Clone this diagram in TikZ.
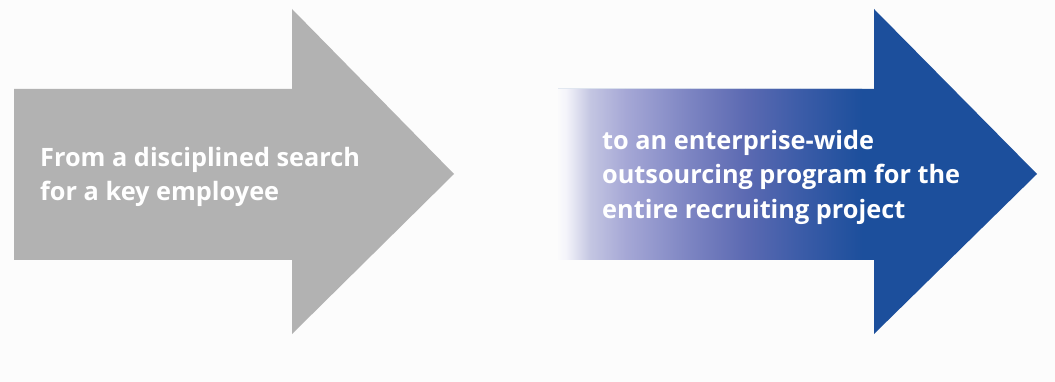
\documentclass[tikz,border=0pt]{standalone}
\usepackage{fontspec}
\setmainfont{Open Sans}
\definecolor{bgc}{HTML}{FCFCFC}
\definecolor{grayarrow}{HTML}{B2B2B2}
\definecolor{bluearrow}{HTML}{1C4F9C}
\definecolor{g1}{HTML}{F4F4FA}
\definecolor{g2}{HTML}{C4C6E2}
\definecolor{g3}{HTML}{A6A8D6}
\definecolor{g4}{HTML}{7C84C2}
\definecolor{g5}{HTML}{5C6AB2}
\definecolor{g6}{HTML}{3C5CA8}
\tikzset{
  lbl/.style={text=white, font=\fontsize{25.3}{34.5}\selectfont\bfseries, align=left, anchor=north west, inner sep=0pt},
}
\begin{document}
\begin{tikzpicture}[x=1pt,y=-1pt]
\fill[bgc] (0,0) rectangle (1055,382);
\useasboundingbox (0,0) rectangle (1055,382);
% gray arrow
\fill[grayarrow] (14,89) -- (292,89) -- (292,9) -- (454,174) -- (292,334) -- (292,260) -- (14,260) -- cycle;
% blue arrow
\begin{scope}
\clip (558,89) -- (874,89) -- (874,9) -- (1037,174) -- (874,334) -- (874,260) -- (558,260) -- cycle;
\fill[bluearrow] (550,0) rectangle (1055,382);
\shade[left color=bgc, right color=g1] (556,0) rectangle (566,382);
\shade[left color=g1, right color=g2] (566,0) rectangle (590,382);
\shade[left color=g2, right color=g3] (590,0) rectangle (625,382);
\shade[left color=g3, right color=g4] (625,0) rectangle (690,382);
\shade[left color=g4, right color=g5] (690,0) rectangle (745,382);
\shade[left color=g5, right color=g6] (745,0) rectangle (800,382);
\shade[left color=g6, right color=bluearrow] (800,0) rectangle (862,382);
\end{scope}
\node[lbl] (t1) at (40,147) {From a disciplined search\\for a key employee};
\node[lbl] (t2) at (602,130) {to an enterprise-wide\\outsourcing program for the\\entire recruiting project};
\end{tikzpicture}
\end{document}
